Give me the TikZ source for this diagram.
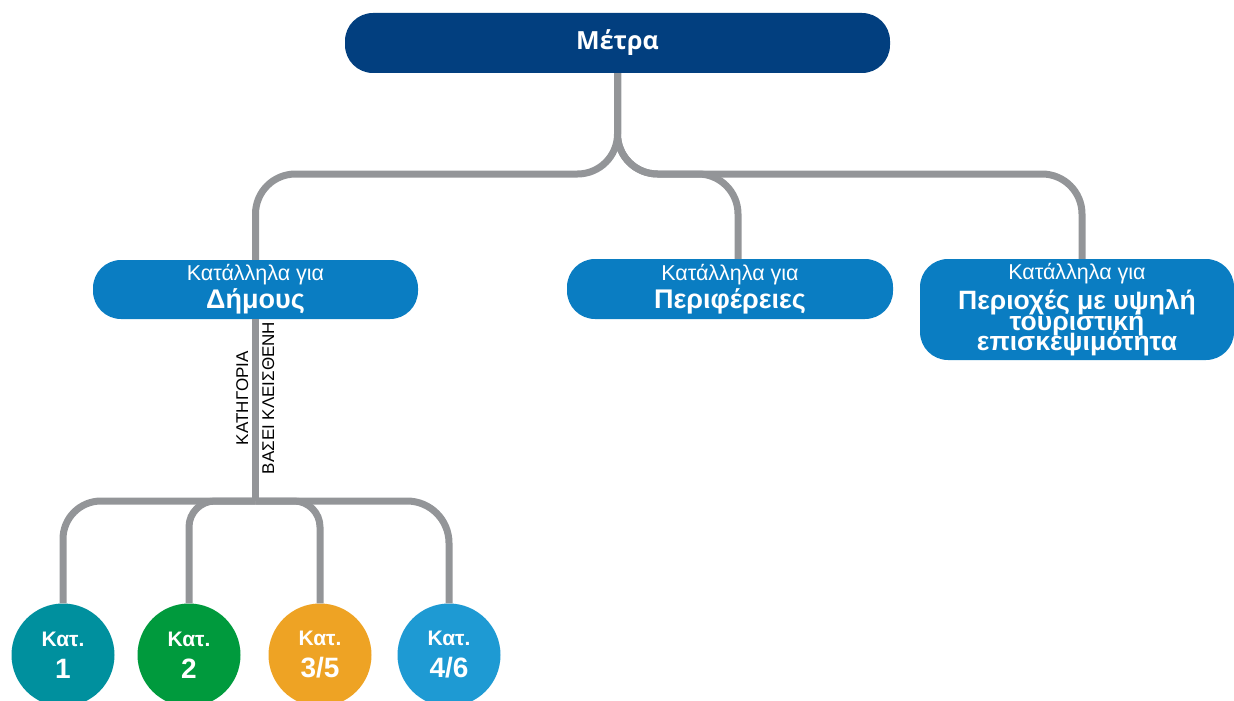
\documentclass[tikz,border=0pt]{standalone}
\usepackage{fontspec}
\setmainfont{Liberation Sans}
\newfontfamily\titlefont{Open Sans}
\definecolor{navy}{HTML}{023F7F}
\definecolor{boxblue}{HTML}{0A7DC2}
\definecolor{wiregrey}{HTML}{939598}
\definecolor{katone}{HTML}{00909E}
\definecolor{kattwo}{HTML}{009A3D}
\definecolor{katthree}{HTML}{EEA324}
\definecolor{katfour}{HTML}{1E9AD3}
\newcommand{\suitfor}{{\fontsize{21.5}{20}\selectfont\mdseries Κατάλληλα για}}
\newcommand{\tightlines}{\lineskiplimit-100pt\relax}
\begin{document}
\begin{tikzpicture}[x=1pt,y=-1pt]
\tikzstyle{every node}+=[inner sep=0pt]
\tikzstyle{wire}=[draw=wiregrey, line width=7pt]
\tikzstyle{topbox}=[fill=navy, text=white, rounded corners=28pt, minimum width=545pt, minimum height=60pt, font=\titlefont\bfseries\fontsize{25}{30}\selectfont]
\tikzstyle{catbox}=[fill=boxblue, text=white, rounded corners=28pt, align=center, font=\bfseries\fontsize{27}{28}\selectfont\tightlines]
\tikzstyle{katcircle}=[circle, minimum size=103pt, text=white, align=center, font=\bfseries\fontsize{21}{32}\selectfont]
\tikzstyle{vlabel}=[rotate=90, font=\fontsize{17}{17}\selectfont]
\useasboundingbox (0,0) rectangle (1234,701);
\node[topbox] (metra) at (617.5,43) {Μέτρα};
\node[catbox, minimum width=325pt, minimum height=59pt] (dimos) at (255.5,289.5) {\suitfor\\Δήμους};
\node[catbox, minimum width=326pt, minimum height=60pt] (perif) at (730,289) {\suitfor\\Περιφέρειες};
\node[catbox, minimum width=314pt, minimum height=101pt, font=\bfseries\fontsize{26.5}{20.5}\selectfont\tightlines] (periox) at (1077,309.5) {\suitfor\\[10pt]Περιοχές με υψηλή\\τουριστική\\επισκεψιμότητα};
\node[katcircle, fill=katone] (k1) at (63,655) {Κατ.\\{\fontsize{28}{32}\selectfont 1}};
\node[katcircle, fill=kattwo] (k2) at (189,655) {Κατ.\\{\fontsize{28}{32}\selectfont 2}};
\node[katcircle, fill=katthree] (k3) at (320,655) {Κατ.\\{\fontsize{28}{32}\selectfont 3/5}};
\node[katcircle, fill=katfour] (k4) at (449,655) {Κατ.\\{\fontsize{28}{32}\selectfont 4/6}};
\coordinate (split) at (617.5,174);
\coordinate (bus) at (255.5,501);
\draw[wire, rounded corners=40pt] (metra.south) -- (split) -| (dimos.north);
\draw[wire, rounded corners=40pt] (metra.south) -- (split) -| ([xshift=8pt]perif.north);
\draw[wire, rounded corners=40pt] (metra.south) -- (split) -| ([xshift=5pt]periox.north);
\draw[wire] (dimos.south) -- (bus);
\draw[wire, rounded corners=38pt] (bus) -| (k1.north);
\draw[wire, rounded corners=26pt] (bus) -| (k2.north);
\draw[wire, rounded corners=26pt] (bus) -| (k3.north);
\draw[wire, rounded corners=42pt] (bus) -| (k4.north);
\node[vlabel, anchor=south] (kat) at (248.5,398) {ΚΑΤΗΓΟΡΙΑ};
\node[vlabel, anchor=north] (kleis) at (262,398) {ΒΑΣΕΙ ΚΛΕΙΣΘΕΝΗ};
\end{tikzpicture}
\end{document}
